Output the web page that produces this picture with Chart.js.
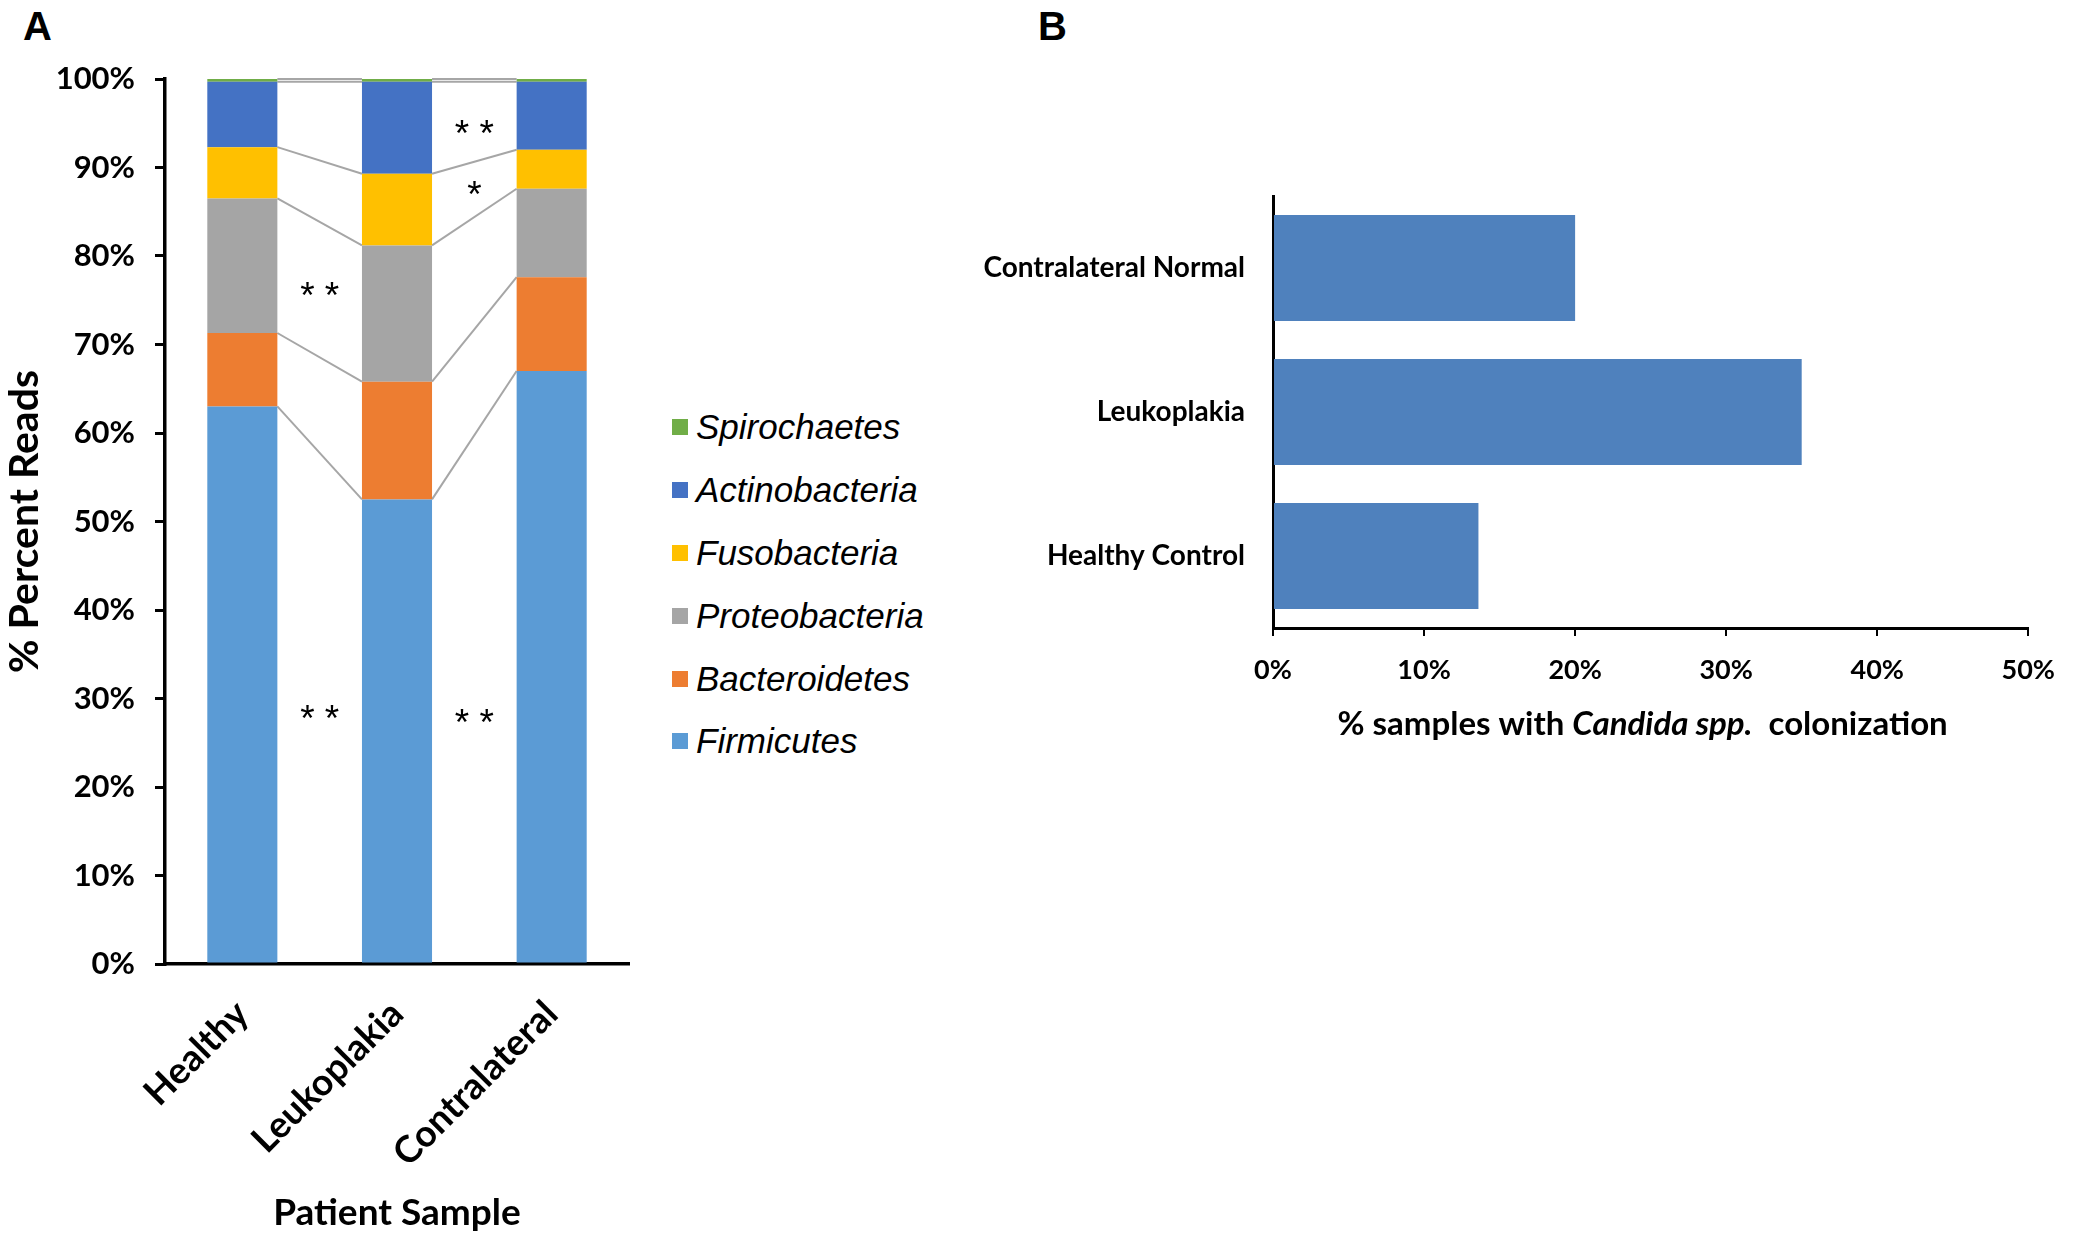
<!DOCTYPE html>
<html>
<head>
<meta charset="utf-8">
<script src="https://cdn.jsdelivr.net/npm/chart.js@4.4.1/dist/chart.umd.min.js"></script>
<style>
html, body { margin: 0; padding: 0; background: #fff; }
body { width: 2073px; height: 1243px; position: relative; overflow: hidden; }
.panel { position: absolute; font: bold 40px "Liberation Sans", Arial, sans-serif; line-height: 40px; color: #000; }
#wrapA { position: absolute; left: 0; top: 0; width: 660px; height: 1243px; }
#wrapB { position: absolute; left: 940px; top: 0; width: 1133px; height: 800px; }
#legendA { position: absolute; left: 672px; top: 396px; margin: 0; padding: 0; list-style: none;
  font: italic 35px "Liberation Sans", Arial, sans-serif; color: #000; }
#legendA li { height: 62.8px; display: flex; align-items: center; }
#legendA .box { width: 16px; height: 16px; margin-right: 8px; display: inline-block; }
</style>
</head>
<body>
<div class="panel" style="left:23px;top:6px">A</div>
<div class="panel" style="left:1038px;top:6px">B</div>
<div id="wrapA"><canvas id="chartA"></canvas></div>
<ul id="legendA"></ul>
<div id="wrapB"><canvas id="chartB"></canvas></div>
<script>
// panel A: phylum composition (% of reads)
var samples = ["Healthy", "Leukoplakia", "Contralateral"];
var firmicutes     = [63.0, 52.5, 67.0];
var bacteroidetes  = [8.3, 13.3, 10.6];
var proteobacteria = [15.2, 15.4, 10.0];
var fusobacteria   = [5.8, 8.1, 4.4];
var actinobacteria = [7.4, 10.4, 7.7];
var spirochaetes   = [0.3, 0.3, 0.3];
var percentTicksA = ["0%", "10%", "20%", "30%", "40%", "50%", "60%", "70%", "80%", "90%", "100%"];

// significance marks between neighbouring bars (gap index, value level, text)
var sigMarks = [
  { gap: 0, at: 76.5, text: "* *" },
  { gap: 0, at: 28.7, text: "* *" },
  { gap: 1, at: 94.8, text: "* *" },
  { gap: 1, at: 88.0, text: "*" },
  { gap: 1, at: 28.3, text: "* *" }
];

// panel B: Candida colonization
var candidaGroups = ["Contralateral Normal", "Leukoplakia", "Healthy Control"];
var candidaPct = [20.0, 35.0, 13.6];
var percentTicksB = ["0%", "10%", "20%", "30%", "40%", "50%"];

Chart.defaults.font.family = "Lato";
Chart.defaults.color = "#000";

var seriesLines = {
  id: "seriesLines",
  beforeDatasetsDraw: function(chart) {
    var ctx = chart.ctx;
    ctx.save();
    ctx.strokeStyle = "#a6a6a6";
    ctx.lineWidth = 2;
    chart.data.datasets.forEach(function(ds, d) {
      var bars = chart.getDatasetMeta(d).data;
      for (var i = 0; i < bars.length - 1; i++) {
        var a = bars[i], b = bars[i + 1];
        ctx.beginPath();
        ctx.moveTo(a.x + a.width / 2, a.y);
        ctx.lineTo(b.x - b.width / 2, b.y);
        ctx.stroke();
      }
    });
    ctx.restore();
  },
  afterDatasetsDraw: function(chart) {
    var ctx = chart.ctx, xs = chart.scales.x, ys = chart.scales.y;
    ctx.save();
    ctx.fillStyle = "#000";
    ctx.font = "37px 'Liberation Sans'";
    ctx.textAlign = "center";
    ctx.textBaseline = "alphabetic";
    sigMarks.forEach(function(m) {
      var x = (xs.getPixelForValue(m.gap) + xs.getPixelForValue(m.gap + 1)) / 2;
      var y = ys.getPixelForValue(m.at);
      ctx.fillText(m.text, x, y + 0.58 * 37);
    });
    ctx.restore();
  }
};

var chartA = new Chart(document.getElementById("chartA"), {
  type: "bar",
  data: {
    labels: samples,
    datasets: [
      { label: "Firmicutes", data: firmicutes, backgroundColor: "#5b9bd5" },
      { label: "Bacteroidetes", data: bacteroidetes, backgroundColor: "#ed7d31" },
      { label: "Proteobacteria", data: proteobacteria, backgroundColor: "#a5a5a5" },
      { label: "Fusobacteria", data: fusobacteria, backgroundColor: "#ffc000" },
      { label: "Actinobacteria", data: actinobacteria, backgroundColor: "#4472c4" },
      { label: "Spirochaetes", data: spirochaetes, backgroundColor: "#70ad47" }
    ]
  },
  options: {
    responsive: true,
    maintainAspectRatio: false,
    animation: false,
    layout: { padding: { top: 79, right: 31, left: 0, bottom: 0 } },
    datasets: { bar: { categoryPercentage: 1, barPercentage: 0.453, borderWidth: 0 } },
    plugins: { legend: { display: false }, tooltip: { enabled: false } },
    scales: {
      x: {
        stacked: true,
        afterFit: function(s) { s.height = 279; },
        grid: { display: false },
        border: { display: true, color: "#000", width: 3.5 },
        ticks: { font: { size: 37, weight: "bold" }, color: "#000", minRotation: 45, maxRotation: 45, padding: 20 },
        title: { display: true, text: "Patient Sample", font: { size: 37, weight: "bold" }, color: "#000", padding: { top: 0, bottom: 8 } }
      },
      y: {
        stacked: true,
        min: 0, max: 100,
        afterFit: function(s) { s.width = 165; },
        grid: { drawOnChartArea: false, drawTicks: true, tickLength: 10, color: "#000", lineWidth: 3 },
        border: { display: true, color: "#000", width: 3.5 },
        ticks: {
          stepSize: 10, padding: 20, font: { size: 31, weight: "bold" }, color: "#000",
          callback: function(v) { return percentTicksA[Math.round(v / 10)]; }
        },
        title: { display: true, text: "% Percent Reads", font: { size: 41, weight: "bold" }, color: "#000", padding: { top: 0, bottom: 0 } }
      }
    }
  },
  plugins: [seriesLines]
});

// legend for panel A, top to bottom in reverse stacking order
var legendEl = document.getElementById("legendA");
chartA.data.datasets.slice().reverse().forEach(function(ds) {
  var li = document.createElement("li");
  var box = document.createElement("span");
  box.className = "box";
  box.style.background = ds.backgroundColor;
  li.appendChild(box);
  li.appendChild(document.createTextNode(ds.label));
  legendEl.appendChild(li);
});

var titleParts = [["% samples with ", false], ["Candida spp.", true], ["  colonization", false]];
var mixedTitle = {
  id: "mixedTitle",
  afterDraw: function(chart) {
    var s = chart.scales.x, ctx = chart.ctx;
    var size = 33;
    var y = s.bottom - 76;
    ctx.save();
    ctx.fillStyle = "#000";
    ctx.textBaseline = "middle";
    ctx.textAlign = "left";
    var widths = titleParts.map(function(p) {
      ctx.font = (p[1] ? "italic " : "") + "bold " + size + "px Lato";
      return ctx.measureText(p[0]).width;
    });
    var total = widths.reduce(function(a, b) { return a + b; }, 0);
    var x = (s.left + s.right) / 2 - total / 2 - 8;
    titleParts.forEach(function(p, i) {
      ctx.font = (p[1] ? "italic " : "") + "bold " + size + "px Lato";
      ctx.fillText(p[0], x, y);
      x += widths[i];
    });
    ctx.restore();
  }
};

new Chart(document.getElementById("chartB"), {
  type: "bar",
  data: {
    labels: candidaGroups,
    datasets: [{ label: "Candida", data: candidaPct, backgroundColor: "#4f81bd" }]
  },
  options: {
    indexAxis: "y",
    responsive: true,
    maintainAspectRatio: false,
    animation: false,
    layout: { padding: { top: 196, right: 36, left: 0, bottom: 0 } },
    datasets: { bar: { categoryPercentage: 1, barPercentage: 0.735, borderWidth: 0 } },
    plugins: { legend: { display: false }, tooltip: { enabled: false } },
    scales: {
      x: {
        min: 0, max: 50,
        afterFit: function(s) { s.height = 172; },
        grid: { drawOnChartArea: false, drawTicks: true, tickLength: 8, color: "#000", lineWidth: 2 },
        border: { display: true, color: "#000", width: 3 },
        ticks: {
          stepSize: 10, padding: 18, font: { size: 27, weight: "bold" }, color: "#000",
          callback: function(v) { return percentTicksB[Math.round(v / 10)]; }
        }
      },
      y: {
        afterFit: function(s) { s.width = 333; },
        grid: { display: false },
        border: { display: true, color: "#000", width: 3 },
        ticks: { padding: 20, font: { size: 28, weight: "bold" }, color: "#000" }
      }
    }
  },
  plugins: [mixedTitle]
});
</script>
</body>
</html>
